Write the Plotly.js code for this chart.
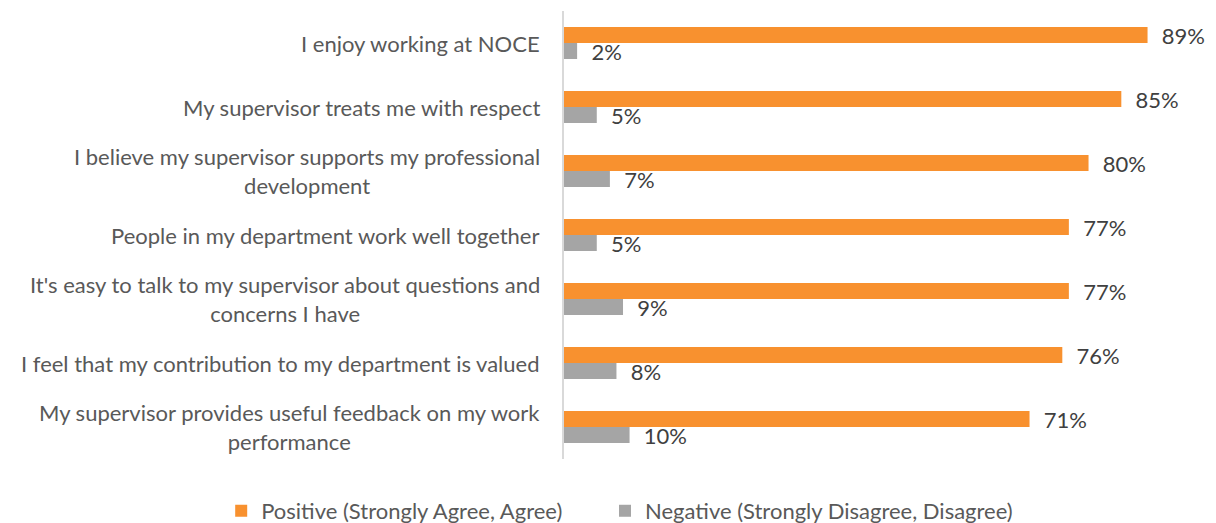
<!DOCTYPE html>
<html><head><meta charset="utf-8">
<script src="https://cdn.plot.ly/plotly-3.0.1.min.js"></script>
<style>html,body{margin:0;padding:0;background:#fff;}#chart{width:1216px;height:523px;}</style>
</head><body><div id="chart"></div>
<script>
const categories = [
  "I enjoy working at NOCE",
  "My supervisor treats me with respect",
  "I believe my supervisor supports my professional<br>development",
  "People in my department work well together",
  "It's easy to talk to my supervisor about questions and<br>concerns I have",
  "I feel that my contribution to my department is valued",
  "My supervisor provides useful feedback on my work<br>performance"
];
const positive = [89, 85, 80, 77, 77, 76, 71];
const negative = [2, 5, 7, 5, 9, 8, 10];
const seriesNames = ["Positive (Strongly Agree, Agree)", "Negative (Strongly Disagree, Disagree)"];

const FONT = "Lato, 'Liberation Sans', sans-serif";
const FS = 22;
const pad = "\u00a0\u00a0";
const traces = [
  {type:'bar', orientation:'h', name:seriesNames[0], y:categories, x:positive, legend:'legend',
   marker:{color:'#F8912F'}, text:positive.map(v=>pad+v+'%'), textposition:'outside',
   constraintext:'none', cliponaxis:false, textfont:{family:FONT,size:FS,color:'#404040'}, hoverinfo:'x'},
  {type:'bar', orientation:'h', name:seriesNames[1], y:categories, x:negative, legend:'legend2',
   marker:{color:'#A5A5A5'}, text:negative.map(v=>pad+v+'%'), textposition:'outside',
   constraintext:'none', cliponaxis:false, textfont:{family:FONT,size:FS,color:'#404040'}, hoverinfo:'x'}
];
const annotations = categories.map(c=>({
  x:0, xref:'x', y:c, yref:'y', text:c, showarrow:false, xanchor:'right', yanchor:'middle',
  align:'center', xshift:-22, font:{family:FONT,size:FS,color:'#595959'}
}));
const legendBase = {orientation:'h', xanchor:'left', y:-0.116, yanchor:'middle',
  font:{family:FONT,size:FS,color:'#595959'}, itemwidth:30, bgcolor:'rgba(0,0,0,0)'};
const layout = {
  width:1216, height:523,
  margin:{l:564, r:16, t:11, b:64, autoexpand:false},
  paper_bgcolor:'#fff', plot_bgcolor:'#fff',
  barmode:'group', bargap:0.5, bargroupgap:0,
  font:{family:FONT, size:FS, color:'#595959'},
  xaxis:{range:[0,97], showgrid:false, zeroline:false, showticklabels:false, showline:false, fixedrange:true},
  yaxis:{autorange:'reversed', showticklabels:false, ticks:'', showgrid:false, zeroline:false,
         showline:true, linecolor:'#D9D9D9', linewidth:2, fixedrange:true},
  showlegend:true,
  legend:Object.assign({}, legendBase, {x:-0.539}),
  legend2:Object.assign({}, legendBase, {x:0.0645}),
  annotations:annotations
};
Plotly.newPlot('chart', traces, layout, {displayModeBar:false, staticPlot:true});
</script></body></html>
